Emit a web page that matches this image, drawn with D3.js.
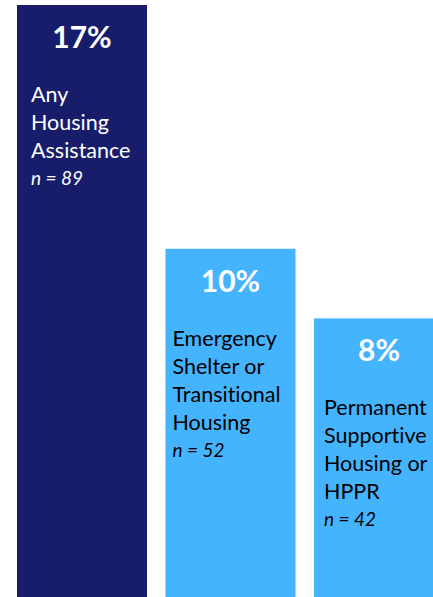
<!DOCTYPE html>
<html>
<head>
<meta charset="utf-8">
<script src="https://cdn.jsdelivr.net/npm/d3@7"></script>
<style>
  html, body { margin: 0; padding: 0; background: #fff; overflow: hidden; }
  svg { display: block; }
  text { font-family: Lato, "Open Sans", sans-serif; font-variant-ligatures: none; }
</style>
</head>
<body>
<div id="chart"></div>
<script>
// ---- Data
const categories = ['Any Housing Assistance', 'Emergency Shelter or Transitional Housing', 'Permanent Supportive Housing or HPPR'];
const labelLines = [
    ['Any', 'Housing', 'Assistance'],
    ['Emergency', 'Shelter or', 'Transitional', 'Housing'],
    ['Permanent', 'Supportive', 'Housing or', 'HPPR']
];
const percents = [17, 10, 8];
const counts = [89, 52, 42];

// ---- Layout / style
const width = 433;
const height = 597;
const barColors = ['#171d6b', '#45b4ff', '#45b4ff'];
const labelColors = ['#ffffff', '#000000', '#000000'];
const labelOffsets = [14, 7, 10];   // text box inset from bar left edge
const lineHeight = 28;

const svg = d3.select('#chart')
    .append('svg')
    .attr('width', width)
    .attr('height', height);

const x = d3.scaleBand()
    .domain(categories)
    .range([17, 444])
    .paddingInner(18.5 / 148.5)
    .paddingOuter(0);

const y = d3.scaleLinear()
    .domain([0, 17])
    .range([height, 5]);

const rows = categories.map((c, i) => ({
    cat: c, lines: labelLines[i], pct: percents[i], n: counts[i], i
}));

// ---- Bars
svg.selectAll('.bar')
    .data(rows)
    .join('rect')
    .attr('class', 'bar')
    .attr('x', d => x(d.cat))
    .attr('y', d => y(d.pct))
    .attr('width', x.bandwidth())
    .attr('height', d => y(0) - y(d.pct))
    .attr('fill', d => barColors[d.i]);

// ---- Percent labels
svg.selectAll('.pct')
    .data(rows)
    .join('text')
    .attr('class', 'pct')
    .attr('x', d => x(d.cat) + x.bandwidth() / 2)
    .attr('y', d => y(d.pct) + 43)
    .attr('text-anchor', 'middle')
    .attr('fill', '#fff')
    .style('font-size', '30px')
    .style('font-weight', 700)
    .text(d => `${d.pct}%`);

// ---- Category labels + n
const groups = svg.selectAll('.lbl')
    .data(rows)
    .join('g')
    .attr('class', 'lbl')
    .attr('transform', d => `translate(${x(d.cat) + labelOffsets[d.i]}, ${y(d.pct) + 97})`);

groups.each(function (d) {
    const g = d3.select(this);
    g.selectAll('text.line')
        .data(d.lines)
        .join('text')
        .attr('class', 'line')
        .attr('y', (_l, k) => k * lineHeight)
        .attr('fill', labelColors[d.i])
        .style('font-size', '21.5px')
        .text(l => l);
    g.append('text')
        .attr('y', d.lines.length * lineHeight - 1)
        .attr('fill', labelColors[d.i])
        .style('font-size', '19px')
        .style('font-style', 'italic')
        .text(`n = ${d.n}`);
});
</script>
</body>
</html>
